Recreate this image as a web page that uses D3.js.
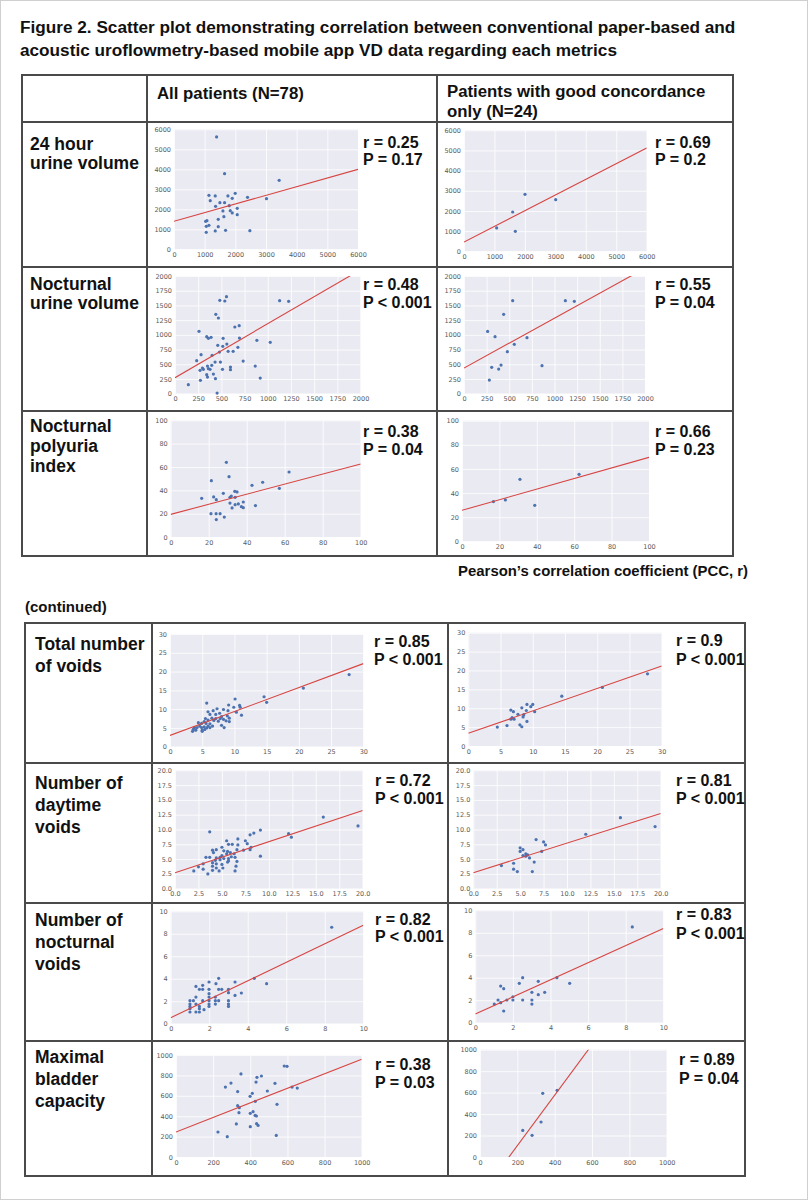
<!DOCTYPE html>
<html><head><meta charset="utf-8">
<script src="https://cdn.jsdelivr.net/npm/d3@7"></script>
<style>body{margin:0;background:#fff}</style>
</head><body><svg id="c" width="808" height="1200"></svg>
<script>
// ---------------- DATA ----------------
const rowLabels = [["24 hour","urine volume"],["Nocturnal","urine volume"],["Nocturnal","polyuria","index"],
  ["Total number","of voids"],["Number of","daytime","voids"],["Number of","nocturnal","voids"],["Maximal","bladder","capacity"]];
const colHeaders = [["All patients (N=78)"],["Patients with good concordance","only (N=24)"]];
const rAll = ["r = 0.25","r = 0.48","r = 0.38","r = 0.85","r = 0.72","r = 0.82","r = 0.38"];
const pAll = ["P = 0.17","P < 0.001","P = 0.04","P < 0.001","P < 0.001","P < 0.001","P = 0.03"];
const rGood = ["r = 0.69","r = 0.55","r = 0.66","r = 0.9","r = 0.81","r = 0.83","r = 0.89"];
const pGood = ["P = 0.2","P = 0.04","P = 0.23","P < 0.001","P < 0.001","P < 0.001","P = 0.04"];
const axisMax = [6000,2000,100,30,20,10,1000];
const tickStep = [1000,250,20,5,2.5,2,200];
// regression lines [intercept, slope]
const fitAll  = [[1400,0.433],[272,0.917],[19.4,0.432],[3.0,0.637],[2.7,0.525],[0.53,0.822],[245,0.713]];
const fitGood = [[460,0.777],[436,0.848],[25.7,0.439],[3.35,0.595],[2.7,0.5],[0.77,0.76],[-365,2.353]];

// 24h urine volume
const uv24AllX = [1389,1649,3429,1139,1345,1758,1996,2398,1899,3016,1182,1497,1649,1356,1801,2062,1595,1834,1899,2062,1627,1443,1074,1031,1139,1052,1443,1345,1682,2474,1052];
const uv24AllY = [5617,3783,3450,2700,2667,2667,2800,2600,2550,2533,2433,2333,2333,2150,2183,2050,1917,1933,1817,1733,1633,1500,1433,1400,1200,1150,1133,917,950,933,850];
const uv24GoodX = [1073,1599,1686,2004,3011];
const uv24GoodY = [1157,1950,992,2827,2562];
// nocturnal urine volume
const nuvAllX = [144,259,234,281,270,296,306,274,342,360,389,350,360,378,342,350,400,396,414,432,436,440,468,483,461,479,490,512,515,519,537,555,559,573,598,598,627,645,678,692,695,735,454,865,883,919,1027,1128,1225];
const nuvAllY = [153,1060,561,663,397,436,414,227,969,941,958,470,425,414,323,283,652,482,334,538,255,1349,1286,1587,822,708,538,414,805,941,1575,1649,844,720,453,408,720,1133,788,1156,946,555,11,470,907,266,873,1581,1570];
const nuvGoodX = [261,280,306,343,383,409,438,479,538,556,696,862,1120,1219];
const nuvGoodY = [1059,232,448,969,419,487,1348,714,1581,839,952,476,1581,1569];
// nocturnal polyuria index
const npiAllX = [16.3,21.4,22.6,24.0,21.2,23.9,26.0,24.0,27.7,28.2,29.3,30.7,31.2,31.9,31.2,32.3,33.7,34.9,33.9,33.9,35.6,37.2,38.2,38.2,42.8,44.6,48.4,57.2,62.3];
const npiAllY = [33.1,48.3,34.3,32.0,20.0,20.0,20.0,14.9,37.4,17.1,64.0,51.7,34.0,35.1,29.1,24.9,39.1,38.6,34.0,27.7,28.3,26.0,30.0,25.1,44.3,26.9,46.9,41.7,55.7];
const npiGoodX = [16.8,23.2,31.0,38.9,62.6];
const npiGoodY = [32.9,34.3,51.4,29.8,55.5];
// total number of voids
const tnvAllX = [27.8,20.7,14.6,15.0,10.1,5.7,9.1,10.8,10.9,11.1,10.3,9.9,9.0,7.3,8.3,5.9,6.7,6.2,7.1,7.7,8.0,8.9,9.2,8.3,8.7,9.2,7.8,7.1,6.5,5.5,5.9,6.8,7.5,5.3,4.4,4.9,5.6,6.2,8.0,8.4,4.6,5.3,5.9,6.6,3.8,4.2,4.9,5.7,3.6,4.0,5.0,5.4,3.5,5.0,6.2];
const tnvAllY = [19.2,15.6,13.3,11.8,12.7,11.6,11.1,11.0,10.5,8.4,9.2,10.5,9.6,10.1,9.9,9.3,9.6,8.6,8.6,8.9,8.0,8.2,7.6,7.3,6.9,6.7,7.5,7.5,7.6,7.5,7.1,7.0,6.8,6.7,6.4,6.2,6.2,6.1,5.7,5.1,5.5,5.3,5.5,5.5,5.1,5.1,5.1,5.0,4.6,4.4,4.4,4.6,4.1,4.1,5.1];
const tnvGoodX = [27.8,20.8,14.5,10.0,9.1,9.7,8.3,6.6,7.0,9.0,10.3,7.7,8.6,8.5,6.8,7.1,6.6,9.1,6.0,8.0,8.3,4.5];
const tnvGoodY = [19.1,15.5,13.2,11.0,11.0,10.4,10.1,9.5,9.1,9.4,9.1,8.4,8.3,7.7,7.5,7.1,7.1,6.5,5.4,5.6,5.1,5.0];
// number of daytime voids
const dvAllX = [19.5,15.8,12.1,12.4,9.1,8.4,8.0,9.1,8.1,8.0,7.5,7.7,7.3,6.7,6.7,6.6,6.1,5.5,5.7,5.0,5.2,5.6,5.9,6.3,5.5,6.0,6.4,5.7,6.6,6.5,6.4,5.7,5.2,4.8,4.4,4.8,4.3,4.0,4.4,4.1,3.7,3.3,3.7,4.0,4.0,4.0,4.4,4.4,4.7,5.0,5.1,3.0,3.0,2.5,2.0,3.5,5.6,5.0];
const dvAllY = [10.6,12.1,9.3,8.7,9.9,9.4,9.1,5.5,7.0,6.6,8.1,7.6,6.5,8.4,7.4,6.6,7.5,8.1,7.5,7.0,6.4,6.3,6.1,5.9,5.9,5.4,5.3,5.1,4.6,3.8,3.0,4.7,5.1,5.3,5.2,4.9,4.8,6.5,6.6,6.1,9.6,5.3,5.3,4.4,3.8,3.1,4.2,3.5,3.0,4.1,3.5,4.2,3.3,3.7,3.0,2.5,4.5,5.6];
const dvGoodX = [19.4,15.7,12.0,7.3,7.5,7.7,6.7,5.0,5.0,5.3,5.3,5.6,5.8,5.6,6.0,6.5,4.3,4.3,4.7,6.3,3.0];
const dvGoodY = [10.5,12.0,9.2,6.3,7.9,7.4,8.3,6.9,6.3,6.6,5.6,5.9,5.7,5.5,5.2,4.5,4.3,3.3,2.9,2.9,3.9];
// number of nocturnal voids
const nvAllX = [8.36,4.98,4.34,3.34,3.67,3.34,3.0,3.0,3.0,3.0,3.0,2.49,2.35,2.49,2.65,1.99,1.99,1.99,1.99,1.99,1.99,1.99,2.32,2.32,2.49,2.32,1.66,1.66,1.49,1.31,1.31,1.66,1.31,1.49,1.49,1.73,1.31,1.49,1.0,1.0,1.0,1.0,1.0,1.18];
const nvAllY = [8.58,3.56,4.04,3.71,2.73,2.52,3.06,2.76,2.05,1.75,1.54,4.04,3.56,3.06,3.06,3.71,3.06,2.67,2.37,2.05,1.75,1.54,2.37,2.05,2.05,1.75,3.41,3.06,3.06,3.32,2.37,2.05,1.75,1.54,1.34,1.25,1.04,1.04,2.05,1.75,1.54,1.34,1.04,2.05];
const nvGoodX = [8.35,5.02,4.34,3.35,3.69,3.35,3.01,3.01,3.01,2.52,2.34,2.52,2.0,2.0,1.68,1.35,1.51,1.21,1.35,1.01,1.51];
const nvGoodY = [8.52,3.50,4.01,3.68,2.70,2.49,2.70,2.02,1.66,4.01,3.50,2.02,2.31,2.02,2.02,3.26,3.03,2.02,1.78,1.66,1.04];
// maximal bladder capacity
const mbcAllX = [226,276,266,296,325,332,332,341,339,350,399,400,400,411,415,426,433,427,431,436,460,434,442,492,533,540,544,583,598,625,653];
const mbcAllY = [245,199,686,725,324,641,503,484,435,814,595,428,297,624,444,408,402,546,735,781,794,327,310,647,722,212,516,892,889,686,676];
const mbcGoodX = [229,279,327,336,413];
const mbcGoodY = [248,202,326,593,621];

const seriesAll  = [[uv24AllX,uv24AllY],[nuvAllX,nuvAllY],[npiAllX,npiAllY],[tnvAllX,tnvAllY],[dvAllX,dvAllY],[nvAllX,nvAllY],[mbcAllX,mbcAllY]];
const seriesGood = [[uv24GoodX,uv24GoodY],[nuvGoodX,nuvGoodY],[npiGoodX,npiGoodY],[tnvGoodX,tnvGoodY],[dvGoodX,dvGoodY],[nvGoodX,nvGoodY],[mbcGoodX,mbcGoodY]];

// ---------------- LAYOUT ----------------
const frames = [
  [[174,358,129.3,249.3],[464,646.7,130.3,251.3]],
  [[175,360.5,276,393.7],[464,645,276,393.7]],
  [[170.7,360.7,420.3,537],[462,649,420.7,541.3]],
  [[170,363.3,634,746.7],[468.3,661.7,632.7,746]],
  [[175,362.7,770.3,888.7],[473.3,660.7,770.3,888.7]],
  [[170.7,363.3,911.3,1023.7],[475.3,663.3,910.3,1022.7]],
  [[176,361.7,1055,1157],[480,666.7,1049.7,1157]]
];
const statPos = [
  [[363,148,165],[655,148,165]],
  [[363,290,308],[655,290,308]],
  [[363,437,455],[655,437,455]],
  [[374,647,665],[676,646,665]],
  [[375,786,804],[676,786,804]],
  [[375,925,942],[676,920,939]],
  [[375,1070,1088],[679,1065,1084]]
];
const labelPos = [[30,[150,169]],[30,[290,309]],[30,[432,452,472]],[35,[650,672]],[35,[789,811,833]],[35,[926,948,970]],[35,[1063,1085,1107]]];
const tables = [{x0:22,x1:733,cols:[147,437],rows:[75,122,267,411,556]},
                {x0:25,x1:745,cols:[152,448],rows:[623,763,903,1041,1176]}];

const svg = d3.select("#c");
const BOLD = "'Liberation Sans', Arial, sans-serif";
svg.append("rect").attr("x",0.5).attr("y",0.5).attr("width",807).attr("height",1199).attr("fill","#fff").attr("stroke","#cfcfcf");

// title
const title = ["Figure 2. Scatter plot demonstrating correlation between conventional paper-based and",
               "acoustic uroflowmetry-based mobile app VD data regarding each metrics"];
title.forEach((t,i)=>svg.append("text").attr("x",20).attr("y",33+i*23).attr("font-family",BOLD)
  .attr("font-weight","bold").attr("font-size",17.2).attr("fill","#111").text(t));

// tables
const TL = "#4a4a4a";
tables.forEach(tb=>{
  const g = svg.append("g").attr("stroke",TL).attr("stroke-width",2).attr("fill","none");
  g.append("rect").attr("x",tb.x0).attr("y",tb.rows[0]).attr("width",tb.x1-tb.x0).attr("height",tb.rows[tb.rows.length-1]-tb.rows[0]);
  tb.rows.slice(1,-1).forEach(y=>g.append("line").attr("x1",tb.x0).attr("x2",tb.x1).attr("y1",y).attr("y2",y));
  tb.cols.forEach(x=>g.append("line").attr("x1",x).attr("x2",x).attr("y1",tb.rows[0]).attr("y2",tb.rows[tb.rows.length-1]));
});

// headers
[[157,[99]],[447,[97,117]]].forEach((p,i)=>colHeaders[i].forEach((t,j)=>
  svg.append("text").attr("x",p[0]).attr("y",p[1][j]).attr("font-family",BOLD).attr("font-weight","bold")
    .attr("font-size",16.8).attr("fill","#111").text(t)));

// row labels
rowLabels.forEach((lines,i)=>lines.forEach((t,j)=>
  svg.append("text").attr("x",labelPos[i][0]).attr("y",labelPos[i][1][j]).attr("font-family",BOLD)
    .attr("font-weight","bold").attr("font-size",17.5).attr("fill","#111").text(t)));

svg.append("text").attr("x",748).attr("y",576).attr("text-anchor","end").attr("font-family",BOLD)
  .attr("font-weight","bold").attr("font-size",14.9).attr("fill","#111").text("Pearson’s correlation coefficient (PCC, r)");
svg.append("text").attr("x",25).attr("y",612).attr("font-family",BOLD)
  .attr("font-weight","bold").attr("font-size",15).attr("fill","#111").text("(continued)");

// panels
let clipId = 0;
function panel(row,col){
  const [l,r,t,b] = frames[row][col];
  const max = axisMax[row], step = tickStep[row];
  const ticks = d3.range(0, max+step/2, step);
  const x = d3.scaleLinear().domain([0,max]).range([l,r]);
  const y = d3.scaleLinear().domain([0,max]).range([b,t]);
  const fmt = step===2.5 ? d3.format(".1f") : d3.format("d");
  const g = svg.append("g");
  g.append("rect").attr("x",l).attr("y",t).attr("width",r-l).attr("height",b-t).attr("fill","#EAEAF2");
  const xa = g.append("g").attr("transform",`translate(0,${b})`)
    .call(d3.axisBottom(x).tickValues(ticks).tickFormat(fmt).tickSize(-(b-t)).tickPadding(3));
  const ya = g.append("g").attr("transform",`translate(${l},0)`)
    .call(d3.axisLeft(y).tickValues(ticks).tickFormat(fmt).tickSize(-(r-l)).tickPadding(3));
  [xa,ya].forEach(a=>{
    a.select(".domain").remove();
    a.selectAll(".tick line").attr("stroke","#fff").attr("stroke-width",0.8);
    a.selectAll(".tick text").attr("fill","#5a5a5a").attr("font-family","'DejaVu Sans', sans-serif").attr("font-size",6.5);
  });
  const id = "clip"+(clipId++);
  g.append("clipPath").attr("id",id).append("rect").attr("x",l).attr("y",t).attr("width",r-l).attr("height",b-t);
  const [xs,ys] = (col===0?seriesAll:seriesGood)[row];
  g.append("g").selectAll("circle").data(xs).join("circle")
    .attr("cx",d=>x(d)).attr("cy",(d,i)=>y(ys[i])).attr("r",1.6).attr("fill","#4C72B0");
  const [a,s] = (col===0?fitAll:fitGood)[row];
  g.append("line").attr("clip-path",`url(#${id})`)
    .attr("x1",x(0)).attr("y1",y(a)).attr("x2",x(max)).attr("y2",y(a+s*max))
    .attr("stroke","#d64541").attr("stroke-width",1.1);
  const sp = statPos[row][col];
  const rs = (col===0?rAll:rGood)[row], ps = (col===0?pAll:pGood)[row];
  [[rs,sp[1]],[ps,sp[2]]].forEach(([txt,yy])=>svg.append("text").attr("x",sp[0]).attr("y",yy)
    .attr("font-family",BOLD).attr("font-weight","bold").attr("font-size",16).attr("fill","#111").text(txt));
}
for(let i=0;i<7;i++){panel(i,0);panel(i,1);}
</script></body></html>
